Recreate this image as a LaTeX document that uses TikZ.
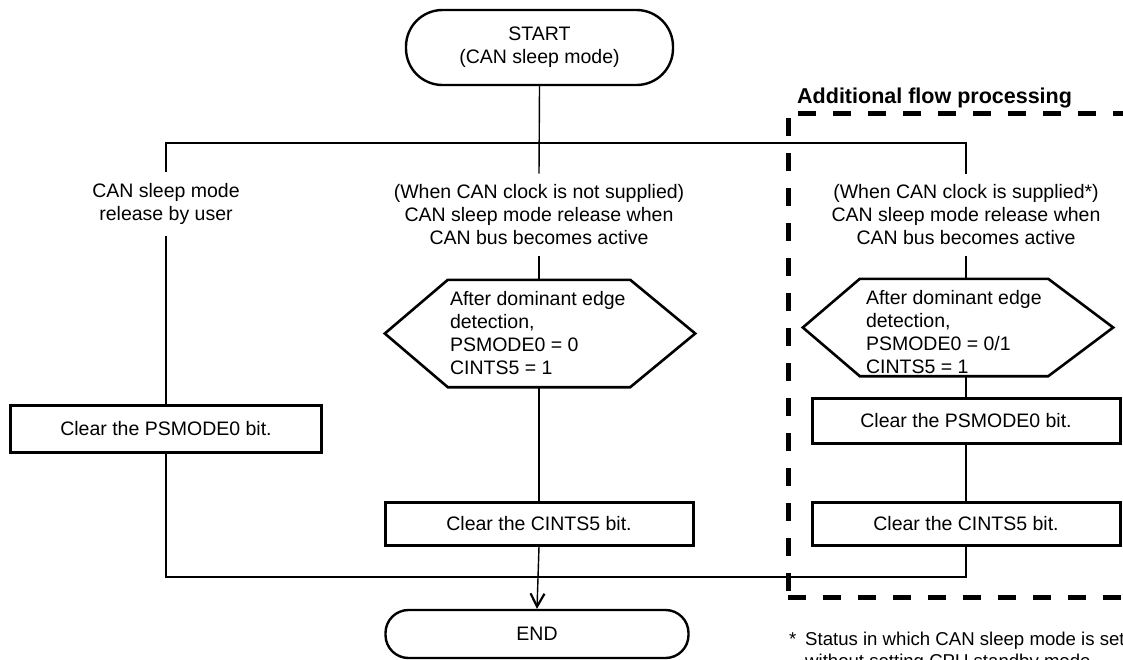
\documentclass[tikz,border=0pt]{standalone}
\usepackage{fontspec}
\setmainfont{Liberation Sans}
\usetikzlibrary{arrows.meta}
\begin{document}
\begin{tikzpicture}[x=1pt,y=-1pt,
  txt/.style={font=\fontsize{19.5}{23}\selectfont, align=center, inner sep=0pt},
  lbl/.style={txt, inner xsep=4pt, inner ysep=11pt},
  term/.style={txt, draw, line width=2.4pt, minimum height=#1, rounded corners=#1/2-1pt},
  stepbox/.style={txt, draw, line width=3pt, minimum width=308pt, minimum height=44pt},
  hexbody/.style={inner sep=0pt},
  hexline/.style={line width=2.6pt, line join=miter},
  conn/.style={line width=1.4pt},
  dashbox/.style={line width=5pt, dash pattern=on 18pt off 17pt}
]
\useasboundingbox (0,0) rectangle (1123,659);
\clip (0,0) rectangle (1123,659);

% terminals
\node[term=75pt, minimum width=267pt] (start) at (539.5,47.5) {START\\(CAN sleep mode)};
\node[term=48pt, minimum width=303pt] (end) at (537,634) {END};

% branch labels
\node[lbl] (ltext) at (166,204) {CAN sleep mode\\release by user};
\node[lbl] (mtext) at (539,215) {(When CAN clock is not supplied)\\CAN sleep mode release when\\CAN bus becomes active};
\node[lbl] (rtext) at (966,215) {(When CAN clock is supplied*)\\CAN sleep mode release when\\CAN bus becomes active};

% hexagons
\node[hexbody, minimum width=182pt, minimum height=107pt] (hexA) at (539,333.5) {};
\draw[hexline] (hexA.north west) -- (hexA.north east) -- ([xshift=65pt]hexA.east)
  -- (hexA.south east) -- (hexA.south west) -- ([xshift=-63pt]hexA.west) -- cycle;
\node[txt, align=left, anchor=west] (hexAtext) at ([xshift=2pt]hexA.west)
  {After dominant edge\\detection,\\PSMODE0 = 0\\CINTS5 = 1};

\node[hexbody, minimum width=188pt, minimum height=97pt] (hexB) at (954,327.5) {};
\draw[hexline] (hexB.north west) -- (hexB.north east) -- ([xshift=65pt]hexB.east)
  -- (hexB.south east) -- (hexB.south west) -- ([xshift=-57pt]hexB.west) -- cycle;
\node[txt, align=left, anchor=west] (hexBtext) at ([xshift=6pt,yshift=-4.5pt]hexB.west)
  {After dominant edge\\detection,\\PSMODE0 = 0/1\\CINTS5 = 1};

% process boxes
\node[stepbox, minimum width=311pt, minimum height=47pt] (lbox) at (166,428.5) {Clear the PSMODE0 bit.};
\node[stepbox, minimum height=43pt] (mbox) at (539,523.5) {Clear the CINTS5 bit.};
\node[stepbox, minimum height=45pt] (rbox1) at (966,420.5) {Clear the PSMODE0 bit.};
\node[stepbox, minimum height=43pt] (rbox2) at (966,523.5) {Clear the CINTS5 bit.};

% connectors
\coordinate (split) at (539,143);
\coordinate (join) at (539,577);
\draw[conn] (start.south) -- (mtext.north);
\draw[conn] (ltext.north) |- (split) -| (rtext.north);
\draw[conn] (ltext.south) -- (lbox.north);
\draw[conn] (mtext.south) -- (hexA.north);
\draw[conn] (hexA.south) -- (mbox.north);
\draw[conn] (rtext.south) -- (rtext.south |- hexB.north);
\draw[conn] (rtext.south |- hexB.south) -- (rbox1.north);
\draw[conn] (rbox1.south) -- (rbox2.north);
\draw[conn] (lbox.south) |- (join) -| (rbox2.south);
\draw[conn, -{Straight Barb[length=13pt, width=14pt, line width=2.2pt]}] (mbox.south) -- (end.north);

% additional flow frame
\node[font=\bfseries\fontsize{21.5}{25}\selectfont, anchor=base west, inner sep=0pt] (addl) at (797,103) {Additional flow processing};
\draw[dashbox] (798,113) -- (1135,113);
\draw[dashbox] (788,118) -- (788,592);
\draw[dashbox] (788,597) -- (1135,597);

% footnote
\node[font=\fontsize{18.6}{22}\selectfont, inner sep=0pt, anchor=north west] (star) at (789,632) {*};
\node[font=\fontsize{18.6}{22}\selectfont, inner sep=0pt, align=left, anchor=north west] (note) at (805,632)
  {Status in which CAN sleep mode is set\\without setting CPU standby mode};
\end{tikzpicture}
\end{document}
